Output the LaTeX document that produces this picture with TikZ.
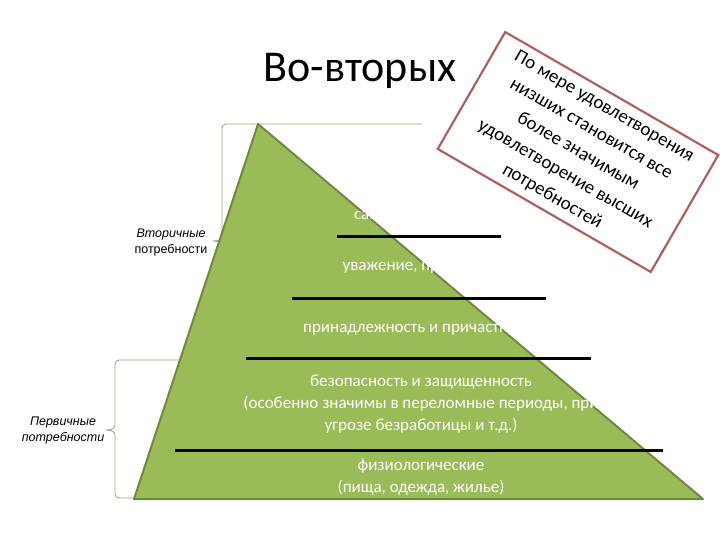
\documentclass[tikz,border=0pt]{standalone}
\usepackage{fontspec}
\setmainfont{Carlito}
\newfontfamily\labfont{Liberation Sans}
\definecolor{pyrfill}{RGB}{155,187,89}
\definecolor{pyredge}{RGB}{113,137,63}
\definecolor{bracecol}{RGB}{160,165,125}
\definecolor{boxcol}{RGB}{176,96,92}
\tikzset{
  level/.style={text=white, align=center, font=\fontsize{17}{22}\selectfont, inner sep=0pt},
  sep/.style={line width=3pt, black},
  bracelab/.style={align=center, font=\labfont\fontsize{12.5}{16}\selectfont, inner sep=0pt},
  bracepath/.style={draw=bracecol, line width=0.9pt},
}
\begin{document}
\begin{tikzpicture}[x=1pt,y=-1pt]
\useasboundingbox (0,0) rectangle (720,540);
% braces
\draw[bracepath] (422,124) -- (226,124) to[out=180,in=90] (222,128) -- (222,236) to[out=-90,in=0] (213,241) to[out=0,in=90] (222,246) -- (222,354) to[out=-90,in=180] (226,358) -- (250,358);
\draw[bracepath] (182,360) -- (119,360) to[out=180,in=90] (115,364) -- (115,425) to[out=-90,in=0] (106,430) to[out=0,in=90] (115,435) -- (115,494) to[out=-90,in=180] (119,498) -- (136,498);
\node[bracelab] (sec) at (171,242) {\textit{Вторичные}\\потребности};
\node[bracelab] (prim) at (63,430) {\textit{Первичные}\\\textit{потребности}};
% pyramid
\coordinate (apex) at (258,124);
\coordinate (bl) at (134,499);
\coordinate (br) at (703,499);
\fill[pyrfill] (apex) -- (br) -- (bl) -- cycle;
\draw[pyredge, line width=2pt, line join=round] (apex) -- (br) -- (bl) -- cycle;
% level texts
\node[level] (l5) at (421,217) {самоактуализация};
\node[level] (l4) at (421,268) {уважение, признание};
\node[level] (l3) at (421,330) {принадлежность и причастность};
\node[level] (l2) at (421,404) {безопасность и защищенность\\(особенно значимы в переломные периоды, при\\угрозе безработицы и т.д.)};
\node[level] (l1) at (421,477) {физиологические\\(пища, одежда, жилье)};
% separator lines
\coordinate (s1a) at (337,236); \coordinate (s1b) at (501,236);
\coordinate (s2a) at (292,298); \coordinate (s2b) at (546,298);
\coordinate (s3a) at (246,358); \coordinate (s3b) at (591,358);
\coordinate (s4a) at (175,450); \coordinate (s4b) at (663,450);
\draw[sep] (s1a) -- (s1b);
\draw[sep] (s2a) -- (s2b);
\draw[sep] (s3a) -- (s3b);
\draw[sep] (s4a) -- (s4b);
% title
\node[font=\fontsize{44}{50}\selectfont, inner sep=0pt] (title) at (360,71) {Во-вторых};
% note box
\node[draw=boxcol, line width=2.2pt, fill=white, rotate=-30, minimum width=246pt, minimum height=135pt, align=center, font=\fontsize{19}{26}\selectfont, inner sep=0pt] (note) at (578,152) {По мере удовлетворения\\низших становится все\\более значимым\\удовлетворение высших\\потребностей};
\end{tikzpicture}
\end{document}
